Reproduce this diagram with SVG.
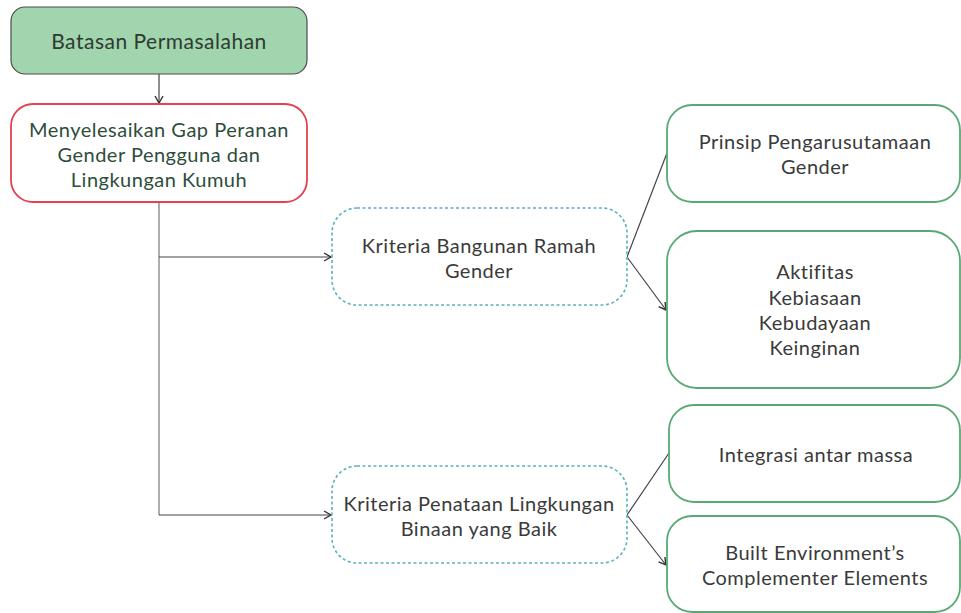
<svg xmlns="http://www.w3.org/2000/svg" width="961" height="613" viewBox="0 0 961 613">
  <style>
    .t { font-family: "Lato", "Open Sans", "Liberation Sans", sans-serif; font-size: 20px; letter-spacing: 0.5px; text-anchor: middle; }
    .dark { fill: #3a3a3a; }
    .green-text { fill: #2e4d3b; }
    .conn { fill: none; stroke: #444; stroke-width: 1.2; }
    .trunk { fill: none; stroke: #999; stroke-width: 1.6; }
    .dash { fill: #fff; stroke: #5bb1c2; stroke-width: 1.6; stroke-dasharray: 3 2.5; }
    .leaf { fill: #fff; stroke: #5aa974; stroke-width: 1.8; }
  </style>
  <defs>
    <marker id="arrow" markerWidth="10" markerHeight="10" refX="8" refY="5" orient="auto" markerUnits="userSpaceOnUse">
      <path d="M1,1 L8,5 L1,9" fill="none" stroke="#333" stroke-width="1.4"/>
    </marker>
  </defs>
  <rect width="961" height="613" fill="#fff"/>

  <g id="connectors">
    <line class="conn" x1="159" y1="74" x2="159" y2="103" marker-end="url(#arrow)"/>
    <line class="trunk" x1="159" y1="202" x2="159" y2="515"/>
    <line class="conn" x1="159" y1="257" x2="331" y2="257" marker-end="url(#arrow)"/>
    <line class="conn" x1="159" y1="515" x2="331" y2="515" marker-end="url(#arrow)"/>
    <line class="conn" x1="627" y1="257" x2="667" y2="153"/>
    <line class="conn" x1="627" y1="257" x2="666" y2="310" marker-end="url(#arrow)"/>
    <line class="conn" x1="627" y1="515" x2="669" y2="453"/>
    <line class="conn" x1="627" y1="515" x2="666" y2="565" marker-end="url(#arrow)"/>
  </g>

  <g id="batasan">
    <rect x="11" y="7" width="296" height="67" rx="14" fill="#a0d5ad" stroke="#4d4d4d" stroke-width="1.2"/>
    <text class="t" x="159" y="49" fill="#2f3a33" style="font-size:21px">Batasan Permasalahan</text>
  </g>

  <g id="gap-peranan">
    <rect x="11" y="104" width="296" height="98" rx="22" fill="#fff" stroke="#e2434d" stroke-width="1.8"/>
    <text class="t green-text" x="159" y="137">Menyelesaikan Gap Peranan</text>
    <text class="t green-text" x="159" y="162">Gender Pengguna dan</text>
    <text class="t green-text" x="159" y="187">Lingkungan Kumuh</text>
  </g>

  <g id="kriteria-bangunan">
    <rect class="dash" x="332" y="208" width="295" height="97" rx="25"/>
    <text class="t dark" x="479" y="253">Kriteria Bangunan Ramah</text>
    <text class="t dark" x="479" y="278">Gender</text>
  </g>

  <g id="kriteria-penataan">
    <rect class="dash" x="332" y="466" width="295" height="97" rx="25"/>
    <text class="t dark" x="479" y="511">Kriteria Penataan Lingkungan</text>
    <text class="t dark" x="479" y="536">Binaan yang Baik</text>
  </g>

  <g id="prinsip">
    <rect class="leaf" x="667" y="105" width="293" height="97" rx="25"/>
    <text class="t dark" x="815" y="149">Prinsip Pengarusutamaan</text>
    <text class="t dark" x="815" y="174">Gender</text>
  </g>

  <g id="aktifitas">
    <rect class="leaf" x="667" y="231" width="293" height="157" rx="30"/>
    <text class="t dark" x="815" y="279">Aktifitas</text>
    <text class="t dark" x="815" y="305">Kebiasaan</text>
    <text class="t dark" x="815" y="330">Kebudayaan</text>
    <text class="t dark" x="815" y="355">Keinginan</text>
  </g>

  <g id="integrasi">
    <rect class="leaf" x="669" y="405" width="291" height="97" rx="25"/>
    <text class="t dark" x="816" y="462">Integrasi antar massa</text>
  </g>

  <g id="built-environment">
    <rect class="leaf" x="667" y="516" width="293" height="96" rx="25"/>
    <text class="t dark" x="815" y="560">Built Environment’s</text>
    <text class="t dark" x="815" y="585">Complementer Elements</text>
  </g>
</svg>
